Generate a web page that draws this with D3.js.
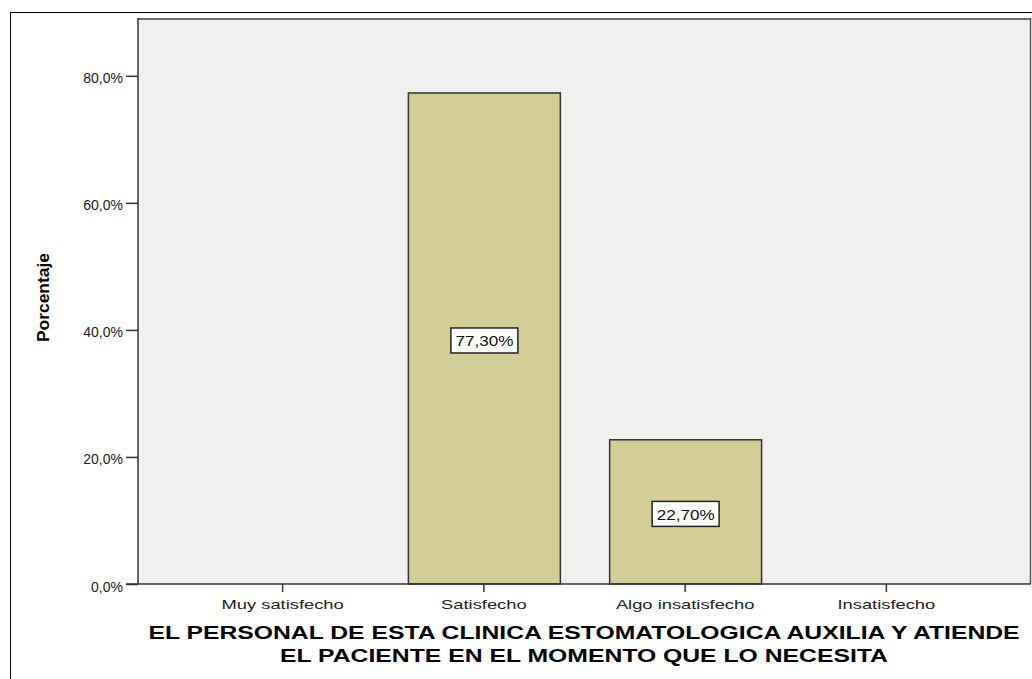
<!DOCTYPE html>
<html><head><meta charset="utf-8">
<script src="https://cdn.jsdelivr.net/npm/d3@7"></script>
<style>body{margin:0;background:#fff}svg{display:block}text{font-family:"Liberation Sans",Arial,sans-serif}</style>
</head><body><svg id="c" width="1032" height="679"></svg>
<script>
const categories = ["Muy satisfecho","Satisfecho","Algo insatisfecho","Insatisfecho"];
const values = [0, 77.3, 22.7, 0];
const valueLabels = ["", "77,30%", "22,70%", ""];
const yTicks = [0,20,40,60,80];
const yTitle = "Porcentaje";
const xTitle = ["EL PERSONAL DE ESTA CLINICA ESTOMATOLOGICA AUXILIA Y ATIENDE","EL PACIENTE EN EL MOMENTO QUE LO NECESITA"];

const svg = d3.select("#c");
const pl = 138, pt = 18, pr = 1031, pb = 584;
svg.append("rect").attr("x",10.5).attr("y",12.5).attr("width",1030).attr("height",700).attr("fill","#fff").attr("stroke","#000");
svg.append("rect").attr("x",pl).attr("y",pt).attr("width",pr-pl).attr("height",pb-pt).attr("fill","#f0f0f0");

const y = d3.scaleLinear().domain([0,89.1]).range([pb,pt]);
const x = d3.scaleBand().domain(categories).range([182,987]).paddingInner(0.245).paddingOuter(0.1225);

// frame lines
svg.append("line").attr("x1",pl).attr("x2",pr).attr("y1",pt+1).attr("y2",pt+1).attr("stroke","#6e6e6e").attr("stroke-width",2);
svg.append("line").attr("x1",pr-0.5).attr("x2",pr-0.5).attr("y1",pt).attr("y2",pb).attr("stroke","#555").attr("stroke-width",1.5);

const data = categories.map((c,i)=>({c,v:values[i],l:valueLabels[i]})).filter(d=>d.v>0);
svg.selectAll("rect.bar").data(data)
  .enter().append("rect").attr("class","bar")
  .attr("x",d=>x(d.c)+0.5).attr("width",x.bandwidth())
  .attr("y",d=>y(d.v)).attr("height",d=>y(0)-y(d.v))
  .attr("fill","#d3ce97").attr("stroke","#333").attr("stroke-width",1.5);

const yAxis = svg.append("g").attr("transform",`translate(${pl},0)`)
  .call(d3.axisLeft(y).tickValues(yTicks).tickSize(12).tickPadding(3).tickFormat(d=>d3.format(".1f")(d).replace(".",",")+"%"));
yAxis.select(".domain").attr("stroke","#333").attr("stroke-width",1.5).attr("d",`M0,${pt}V${pb}`);
yAxis.selectAll(".tick line").attr("stroke","#333").attr("stroke-width",1.5);
yAxis.selectAll("text").attr("font-size",14).attr("fill","#222").attr("dy","0.5em").attr("font-family","Liberation Sans, Arial, sans-serif");

const xAxis = svg.append("g").attr("transform",`translate(0,${pb})`)
  .call(d3.axisBottom(x).tickSize(8).tickPadding(7));
xAxis.select(".domain").attr("stroke","#333").attr("stroke-width",1.5).attr("d",`M${pl-12},0H${pr}`);
xAxis.selectAll(".tick line").attr("stroke","#333").attr("stroke-width",1.5);
xAxis.selectAll(".tick text").attr("font-size",13).attr("fill","#222").attr("y",25).attr("dy",0)
  .attr("transform","scale(1.41,1)").attr("font-family","Liberation Sans, Arial, sans-serif");

// value labels
const lab = svg.selectAll("g.vl").data(data)
  .enter().append("g").attr("class","vl")
  .attr("transform",d=>`translate(${x(d.c)+x.bandwidth()/2+0.5},${(y(d.v)+y(0))/2+2})`);
lab.append("rect").attr("x",-33.5).attr("y",-12.5).attr("width",67).attr("height",25).attr("fill","#fff").attr("stroke","#222").attr("stroke-width",1.5);
lab.append("text").attr("text-anchor","middle").attr("y",6).attr("font-size",15).attr("fill","#111")
  .attr("transform","scale(1.14,1)").text(d=>d.l);

svg.append("text").attr("transform","translate(49,297.5) rotate(-90) scale(1.09,1)").attr("text-anchor","middle")
  .attr("font-size",16).attr("font-weight","bold").attr("fill","#000").text(yTitle);

svg.selectAll("text.xt").data(xTitle).enter().append("text").attr("class","xt")
  .attr("transform",(d,i)=>`translate(584,${639+i*23}) scale(1.375,1)`).attr("text-anchor","middle")
  .attr("font-size",18).attr("font-weight","bold").attr("fill","#000").text(d=>d);
</script></body></html>
